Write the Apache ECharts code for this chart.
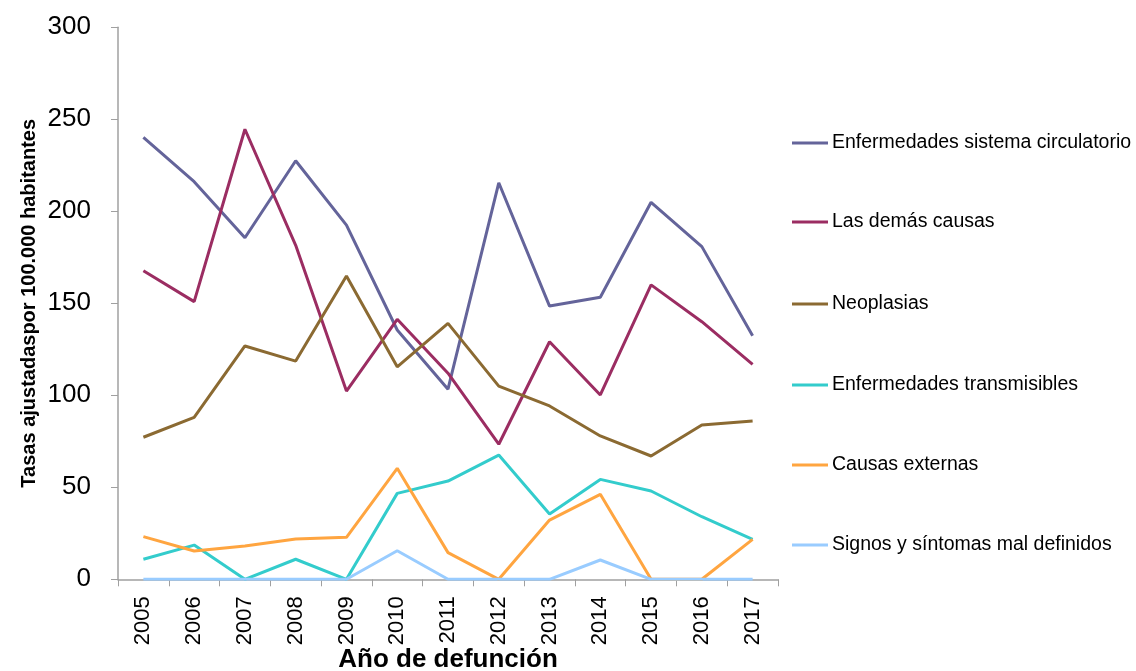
<!DOCTYPE html>
<html><head><meta charset="utf-8">
<script src="https://cdn.jsdelivr.net/npm/echarts@6/dist/echarts.min.js"></script>
<style>html,body{margin:0;padding:0;background:#fff}#c{width:1136px;height:671px}</style>
</head><body><div id="c"></div>
<script>
const years = ['2005','2006','2007','2008','2009','2010','2011','2012','2013','2014','2015','2016','2017'];
const seriesNames = ['Enfermedades sistema circulatorio','Las demás causas','Neoplasias','Enfermedades transmisibles','Causas externas','Signos y síntomas mal definidos'];
const circulatorio = [240.2,216.1,185.6,227.5,192.5,135.5,103.3,215.5,148.5,153.3,204.9,180.8,132.4];
const demasCausas = [167.7,150.9,244.6,181.5,102.3,141.3,112,73.4,129.1,100.2,160,140,116.8];
const neoplasias = [77.2,88,126.8,118.6,164.8,115.5,139.1,105,94.2,77.9,67,83.9,86];
const transmisibles = [10.9,18.6,0,10.9,0,46.7,53.4,67.5,35.5,54.3,48,34,21.7];
const externas = [23.2,15.4,18.1,21.9,22.8,60.3,14.5,0,32.2,46.2,0,0,21.7];
const signos = [0,0,0,0,0,15.5,0,0,0,10.5,0,0,0];
const yTicks = [0,50,100,150,200,250,300];
const colors = ['#64649a','#9b2d62','#8b6a32','#33cccc','#ffa540','#99ccff'];
const allData = [circulatorio,demasCausas,neoplasias,transmisibles,externas,signos];

const legendCenters = [143,222,304,385,465,545];
const chart = echarts.init(document.getElementById('c'));
chart.setOption({
  animation:false,
  color:colors,
  grid:{left:118,right:358,top:27.3,bottom:91.7,containLabel:false,outerBoundsMode:'none'},
  legend: seriesNames.map((n,i)=>({
    data:[n], orient:'vertical', left:792, top:legendCenters[i]-10, padding:0,
    icon:'rect', itemWidth:36, itemHeight:3, itemGap:0,
    textStyle:{fontFamily:'Liberation Sans, Arial, sans-serif', fontSize:19.5, lineHeight:20, color:'#000', padding:[0,0,0,-1]}
  })),
  xAxis:{
    type:'category', data:years, boundaryGap:true,
    name:'Año de defunción', nameLocation:'middle', nameGap:68, nameMoveOverlap:false,
    nameTextStyle:{fontFamily:'Liberation Sans Narrow, Arial Narrow, Liberation Sans, sans-serif', fontWeight:'bold', fontSize:26, color:'#000'},
    axisLine:{lineStyle:{color:'#a0a0a0',width:1.5}},
    axisTick:{show:true, length:7, lineStyle:{color:'#a0a0a0'}},
    axisLabel:{rotate:90, fontFamily:'Liberation Sans, Arial, sans-serif', fontSize:22, color:'#000', margin:17}
  },
  yAxis:{
    type:'value', min:0, max:300, interval:50,
    name:'Tasas ajustadaspor 100.000 habitantes', nameLocation:'middle', nameGap:79, nameRotate:90, nameMoveOverlap:false,
    nameTextStyle:{fontFamily:'Liberation Sans Narrow, Arial Narrow, Liberation Sans, sans-serif', fontWeight:'bold', fontSize:20, color:'#000'},
    axisLine:{show:true, lineStyle:{color:'#a0a0a0',width:1.5}},
    axisTick:{show:true, length:7, lineStyle:{color:'#a0a0a0'}},
    splitLine:{show:false},
    axisLabel:{fontFamily:'Liberation Sans, Arial, sans-serif', fontSize:26, color:'#000', margin:27,
      formatter:v=>yTicks.includes(v)?String(v):''}
  },
  series: seriesNames.map((n,i)=>({
    name:n, type:'line', data:allData[i], symbol:'none', smooth:false,
    lineStyle:{width:3, color:colors[i]}, itemStyle:{color:colors[i]}
  }))
});
</script></body></html>
